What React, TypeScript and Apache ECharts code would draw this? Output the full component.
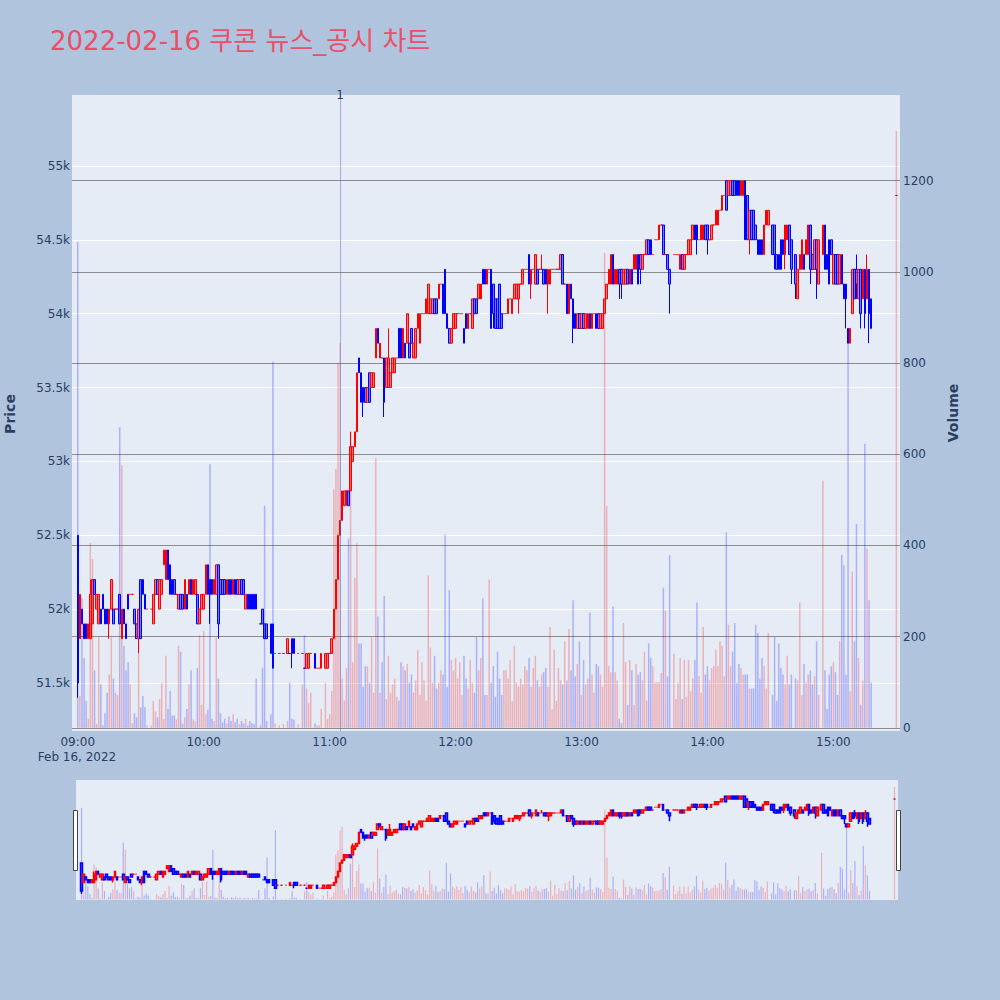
import React, { FC, useEffect, useRef } from "react";
import * as echarts from "echarts";

// [time, open, close, low, high, volume]
type Row = [string, number, number, number, number, number];

const rows09: Row[] = [
  ["09:00", 52500, 51500, 51400, 52500, 1065],
  ["09:01", 51800, 52100, 51800, 52100, 70],
  ["09:02", 52000, 51900, 51900, 52000, 284],
  ["09:03", 51900, 51800, 51800, 51900, 153],
  ["09:04", 51900, 51800, 51800, 51900, 59],
  ["09:05", 51800, 51900, 51800, 51900, 20],
  ["09:06", 51800, 52100, 51800, 52200, 406],
  ["09:07", 51900, 52200, 51900, 52200, 370],
  ["09:08", 52200, 52100, 52100, 52200, 126],
  ["09:09", 52000, 52100, 52000, 52100, 9],
  ["09:10", 51900, 52100, 51900, 52100, 199],
  ["09:11", 52000, 51900, 51900, 52000, 95],
  ["09:12", 52100, 52000, 52000, 52100, 5],
  ["09:13", 52000, 51900, 51900, 52000, 32],
  ["09:14", 52000, 51900, 51900, 52000, 77],
  ["09:15", 51900, 52000, 51800, 52000, 117],
  ["09:16", 52000, 52200, 52000, 52200, 199],
  ["09:17", 52000, 51900, 51900, 52000, 108],
  ["09:18", 52000, 52000, 52000, 52000, 77],
  ["09:19", 52000, 52000, 52000, 52000, 72],
  ["09:20", 52100, 51900, 51900, 52100, 659],
  ["09:21", 51800, 52000, 51800, 52000, 576],
  ["09:22", 52000, 51900, 51900, 52000, 180],
  ["09:23", 51900, 51800, 51800, 51900, 126],
  ["09:24", 52100, 52000, 52000, 52100, 144],
  ["09:25", 52100, 52100, 52100, 52100, 95],
  ["09:26", 52100, 52100, 52100, 52100, 10],
  ["09:27", 52000, 51900, 51900, 52000, 32],
  ["09:28", 51900, 51800, 51800, 51900, 23],
  ["09:29", 51800, 52000, 51700, 52000, 162],
  ["09:30", 52200, 51800, 51800, 52200, 45],
  ["09:31", 52200, 52100, 52100, 52200, 70],
  ["09:32", 52100, 52000, 52000, 52100, 45],
  ["09:33", 52000, 52000, 52000, 52000, 5],
  ["09:35", 52000, 52000, 52000, 52000, 5],
  ["09:36", 51900, 52100, 51900, 52100, 59],
  ["09:37", 52100, 52200, 52100, 52200, 36],
  ["09:38", 52200, 52100, 52100, 52200, 23],
  ["09:39", 52000, 52200, 52000, 52200, 63],
  ["09:40", 52100, 52200, 52100, 52200, 99],
  ["09:41", 52300, 52400, 52300, 52400, 20],
  ["09:42", 52200, 52400, 52200, 52400, 158],
  ["09:43", 52400, 52200, 52200, 52400, 41],
  ["09:44", 52300, 52100, 52100, 52300, 81],
  ["09:45", 52200, 52100, 52100, 52200, 27],
  ["09:46", 52200, 52100, 52100, 52200, 27],
  ["09:47", 52100, 52100, 52100, 52100, 18],
  ["09:48", 52000, 52100, 52000, 52100, 180],
  ["09:49", 52100, 52000, 52000, 52100, 167],
  ["09:50", 52100, 52000, 52000, 52100, 9],
  ["09:51", 52000, 52200, 52000, 52200, 23],
  ["09:52", 52100, 52000, 52000, 52100, 41],
  ["09:53", 52100, 52200, 52100, 52200, 95],
  ["09:54", 52200, 52100, 52100, 52200, 126],
  ["09:55", 52100, 52200, 52100, 52200, 18],
  ["09:56", 52100, 52200, 52100, 52200, 14],
  ["09:57", 52100, 51900, 51900, 52100, 131],
  ["09:58", 51900, 52000, 51900, 52000, 203],
  ["09:59", 52000, 52100, 52000, 52100, 50],
];

const rows10: Row[] = [
  ["10:00", 52000, 52100, 52000, 52100, 212],
  ["10:01", 52100, 52300, 52100, 52300, 30],
  ["10:02", 52300, 52100, 52100, 52300, 40],
  ["10:03", 52200, 52100, 51900, 52200, 578],
  ["10:04", 52200, 52100, 52100, 52200, 20],
  ["10:05", 52100, 52200, 52100, 52200, 15],
  ["10:06", 52100, 52300, 52100, 52300, 199],
  ["10:07", 52300, 51900, 51800, 52300, 108],
  ["10:08", 52200, 52100, 52100, 52200, 32],
  ["10:09", 52200, 52100, 52100, 52200, 12],
  ["10:10", 52200, 52100, 52100, 52200, 20],
  ["10:11", 52100, 52200, 52100, 52200, 10],
  ["10:12", 52200, 52100, 52100, 52200, 25],
  ["10:13", 52200, 52100, 52100, 52200, 15],
  ["10:14", 52100, 52200, 52100, 52200, 30],
  ["10:15", 52200, 52100, 52100, 52200, 12],
  ["10:16", 52200, 52100, 52100, 52200, 20],
  ["10:17", 52100, 52200, 52100, 52200, 8],
  ["10:18", 52200, 52100, 52100, 52200, 15],
  ["10:19", 52200, 52100, 52100, 52200, 10],
  ["10:20", 52000, 52100, 52000, 52100, 20],
  ["10:21", 52100, 52000, 52000, 52100, 5],
  ["10:22", 52100, 52000, 52000, 52100, 15],
  ["10:23", 52100, 52000, 52000, 52100, 10],
  ["10:24", 52100, 52000, 52000, 52100, 8],
  ["10:25", 52100, 52000, 52000, 52100, 108],
  ["10:27", 51900, 51900, 51900, 51900, 5],
  ["10:28", 52000, 51900, 51900, 52000, 131],
  ["10:29", 51900, 51800, 51800, 51900, 487],
  ["10:30", 51900, 51800, 51800, 51900, 15],
  ["10:32", 51900, 51700, 51700, 51900, 30],
  ["10:33", 51900, 51600, 51600, 51900, 803],
  ["10:34", 51700, 51700, 51700, 51700, 10],
  ["10:36", 51700, 51700, 51700, 51700, 5],
  ["10:38", 51700, 51700, 51700, 51700, 8],
  ["10:40", 51700, 51800, 51700, 51800, 15],
  ["10:41", 51700, 51700, 51700, 51700, 99],
  ["10:42", 51800, 51700, 51600, 51800, 20],
  ["10:43", 51800, 51700, 51700, 51800, 18],
  ["10:45", 51700, 51700, 51700, 51700, 8],
  ["10:47", 51700, 51700, 51700, 51700, 95],
  ["10:48", 51600, 51600, 51600, 51600, 203],
  ["10:49", 51600, 51700, 51600, 51700, 86],
  ["10:50", 51600, 51700, 51600, 51700, 54],
  ["10:51", 51700, 51700, 51700, 51700, 77],
  ["10:53", 51700, 51600, 51600, 51700, 10],
  ["10:54", 51600, 51600, 51600, 51600, 5],
  ["10:55", 51600, 51600, 51600, 51600, 5],
  ["10:56", 51600, 51700, 51600, 51700, 41],
  ["10:58", 51600, 51700, 51600, 51700, 99],
  ["10:59", 51600, 51700, 51600, 51700, 20],
];

const rows11: Row[] = [
  ["11:00", 51700, 51700, 51700, 51700, 30],
  ["11:01", 51700, 51800, 51700, 51800, 81],
  ["11:02", 51800, 52000, 51800, 52000, 523],
  ["11:03", 52000, 52200, 52000, 52200, 568],
  ["11:04", 52200, 52500, 52200, 52500, 799],
  ["11:05", 52500, 52600, 52500, 52600, 844],
  ["11:06", 52600, 52800, 52600, 52800, 108],
  ["11:07", 52700, 52800, 52700, 52800, 60],
  ["11:08", 52800, 52800, 52700, 52800, 131],
  ["11:09", 52800, 52700, 52700, 52800, 415],
  ["11:10", 52800, 53100, 52800, 53200, 650],
  ["11:11", 53000, 53100, 53000, 53100, 144],
  ["11:12", 53100, 53200, 53100, 53200, 329],
  ["11:13", 53200, 53600, 53200, 53600, 406],
  ["11:14", 53700, 53600, 53600, 53700, 185],
  ["11:15", 53600, 53400, 53400, 53600, 185],
  ["11:16", 53500, 53400, 53300, 53500, 90],
  ["11:17", 53500, 53400, 53400, 53500, 135],
  ["11:18", 53400, 53500, 53400, 53500, 135],
  ["11:19", 53600, 53400, 53400, 53600, 99],
  ["11:20", 53500, 53600, 53500, 53600, 199],
  ["11:21", 53500, 53600, 53500, 53600, 77],
  ["11:22", 53700, 53900, 53700, 53900, 591],
  ["11:23", 53900, 53800, 53800, 53900, 244],
  ["11:24", 53700, 53800, 53700, 53800, 77],
  ["11:25", 53700, 53700, 53700, 53700, 144],
  ["11:26", 53700, 53400, 53300, 53700, 289],
  ["11:27", 53500, 53700, 53500, 53700, 63],
  ["11:28", 53500, 53700, 53500, 53900, 158],
  ["11:29", 53500, 53600, 53500, 53600, 77],
  ["11:30", 53600, 53700, 53600, 53700, 95],
  ["11:31", 53600, 53700, 53600, 53700, 108],
  ["11:32", 53700, 53700, 53700, 53700, 68],
  ["11:33", 53900, 53700, 53700, 53900, 60],
  ["11:34", 53900, 53700, 53700, 53900, 144],
  ["11:35", 53700, 53900, 53700, 53900, 135],
  ["11:36", 53800, 53700, 53700, 53800, 126],
  ["11:37", 53800, 54000, 53800, 54000, 140],
  ["11:38", 53800, 53700, 53700, 53800, 99],
  ["11:39", 53900, 53800, 53800, 53900, 117],
  ["11:40", 53700, 53800, 53700, 53800, 77],
  ["11:41", 53700, 53900, 53700, 53900, 104],
  ["11:42", 53900, 54000, 53900, 54000, 171],
  ["11:43", 53800, 54000, 53800, 54000, 72],
  ["11:44", 54000, 54000, 54000, 54000, 144],
  ["11:45", 54000, 54000, 54000, 54000, 104],
  ["11:46", 54000, 54100, 54000, 54100, 60],
  ["11:47", 54000, 54200, 54000, 54200, 334],
  ["11:48", 54000, 54100, 54000, 54100, 176],
  ["11:49", 54000, 54100, 54000, 54100, 99],
  ["11:50", 54100, 54000, 54000, 54100, 158],
  ["11:51", 54100, 54000, 54000, 54100, 86],
  ["11:52", 54100, 54200, 54100, 54200, 99],
  ["11:53", 54200, 54200, 54200, 54200, 126],
  ["11:54", 54200, 54000, 54000, 54200, 117],
  ["11:55", 54300, 54000, 54000, 54300, 424],
  ["11:56", 54000, 53900, 53900, 54000, 90],
  ["11:57", 53900, 53800, 53800, 53900, 302],
  ["11:58", 53800, 53900, 53800, 53900, 149],
  ["11:59", 53900, 54000, 53900, 54000, 126],
];

const rows12: Row[] = [
  ["12:00", 53900, 54000, 53900, 54000, 153],
  ["12:01", 54000, 54000, 54000, 54000, 108],
  ["12:02", 54000, 54000, 54000, 54000, 144],
  ["12:03", 54000, 54000, 54000, 54000, 72],
  ["12:04", 53900, 53800, 53800, 53900, 158],
  ["12:05", 54000, 53900, 53900, 54000, 108],
  ["12:06", 53900, 54000, 53900, 54000, 86],
  ["12:07", 54000, 54000, 54000, 54000, 149],
  ["12:08", 53900, 54100, 53900, 54100, 99],
  ["12:09", 54100, 54000, 54000, 54100, 77],
  ["12:10", 54100, 54000, 54000, 54100, 199],
  ["12:11", 54100, 54200, 54100, 54200, 126],
  ["12:12", 54100, 54200, 54100, 54200, 153],
  ["12:13", 54300, 54200, 54200, 54300, 284],
  ["12:14", 54300, 54200, 54200, 54300, 72],
  ["12:15", 54200, 54300, 54200, 54300, 72],
  ["12:16", 54300, 54300, 54300, 54300, 325],
  ["12:17", 54300, 53900, 53900, 54300, 99],
  ["12:18", 54200, 54000, 53900, 54200, 135],
  ["12:19", 54100, 53900, 53900, 54100, 68],
  ["12:20", 54100, 53900, 53900, 54100, 167],
  ["12:21", 54200, 53900, 53900, 54200, 108],
  ["12:22", 54000, 53900, 53900, 54000, 72],
  ["12:23", 54000, 54000, 54000, 54000, 126],
  ["12:24", 54000, 54000, 54000, 54000, 126],
  ["12:25", 54000, 54100, 54000, 54100, 108],
  ["12:26", 54100, 54100, 54100, 54100, 149],
  ["12:27", 54000, 54100, 54000, 54100, 59],
  ["12:28", 54100, 54200, 54100, 54200, 180],
  ["12:29", 54100, 54200, 54100, 54200, 99],
  ["12:30", 54100, 54200, 54000, 54200, 90],
  ["12:31", 54200, 54200, 54200, 54200, 108],
  ["12:32", 54200, 54300, 54200, 54300, 95],
  ["12:33", 54300, 54300, 54300, 54300, 135],
  ["12:34", 54300, 54300, 54300, 54300, 126],
  ["12:35", 54400, 54200, 54200, 54400, 153],
  ["12:36", 54200, 54300, 54100, 54300, 90],
  ["12:37", 54300, 54300, 54300, 54300, 131],
  ["12:38", 54200, 54400, 54200, 54400, 158],
  ["12:39", 54300, 54200, 54200, 54300, 104],
  ["12:40", 54300, 54300, 54300, 54300, 90],
  ["12:41", 54300, 54300, 54300, 54400, 117],
  ["12:42", 54300, 54200, 54200, 54300, 122],
  ["12:43", 54300, 54200, 54200, 54300, 131],
  ["12:44", 54200, 54300, 54000, 54300, 90],
  ["12:45", 54200, 54300, 54200, 54300, 221],
  ["12:46", 54300, 54300, 54300, 54300, 41],
  ["12:47", 54300, 54300, 54300, 54300, 171],
  ["12:48", 54300, 54300, 54300, 54300, 59],
  ["12:49", 54300, 54300, 54300, 54300, 131],
  ["12:50", 54300, 54400, 54300, 54400, 104],
  ["12:51", 54400, 54200, 54200, 54400, 95],
  ["12:52", 54200, 54200, 54200, 54200, 190],
  ["12:53", 54200, 54000, 54000, 54200, 104],
  ["12:54", 54000, 54200, 54000, 54200, 217],
  ["12:55", 54200, 54100, 54100, 54200, 126],
  ["12:56", 54100, 53900, 53800, 54100, 280],
  ["12:57", 54000, 53900, 53900, 54000, 113],
  ["12:58", 53900, 54000, 53900, 54000, 140],
  ["12:59", 54000, 53900, 53900, 54000, 190],
];

const rows13: Row[] = [
  ["13:00", 53900, 54000, 53900, 54000, 72],
  ["13:01", 54000, 53900, 53900, 54000, 149],
  ["13:02", 53900, 54000, 53900, 54000, 95],
  ["13:03", 53900, 54000, 53900, 54000, 108],
  ["13:04", 54000, 53900, 53900, 54000, 253],
  ["13:05", 53900, 54000, 53900, 54000, 117],
  ["13:06", 54000, 54000, 54000, 54000, 77],
  ["13:07", 54000, 53900, 53900, 54000, 140],
  ["13:08", 54000, 53900, 53900, 54000, 135],
  ["13:09", 53900, 54000, 53900, 54000, 117],
  ["13:10", 53900, 54000, 53900, 54000, 90],
  ["13:11", 54000, 54100, 54000, 54100, 1042],
  ["13:12", 54100, 54200, 54100, 54200, 487],
  ["13:13", 54200, 54300, 54200, 54300, 135],
  ["13:14", 54200, 54400, 54200, 54400, 122],
  ["13:15", 54400, 54200, 54200, 54400, 266],
  ["13:16", 54200, 54300, 54200, 54300, 122],
  ["13:17", 54200, 54300, 54200, 54300, 104],
  ["13:18", 54300, 54200, 54100, 54300, 20],
  ["13:19", 54300, 54200, 54100, 54300, 10],
  ["13:20", 54200, 54300, 54200, 54300, 230],
  ["13:21", 54200, 54300, 54200, 54300, 144],
  ["13:22", 54300, 54200, 54200, 54300, 50],
  ["13:23", 54200, 54300, 54200, 54300, 149],
  ["13:24", 54300, 54200, 54200, 54300, 126],
  ["13:25", 54300, 54400, 54300, 54400, 50],
  ["13:26", 54300, 54400, 54300, 54400, 140],
  ["13:27", 54400, 54200, 54200, 54400, 117],
  ["13:28", 54400, 54300, 54200, 54400, 122],
  ["13:29", 54300, 54400, 54300, 54400, 104],
  ["13:30", 54400, 54400, 54400, 54400, 167],
  ["13:31", 54400, 54500, 54400, 54500, 59],
  ["13:32", 54500, 54400, 54400, 54500, 185],
  ["13:33", 54500, 54400, 54400, 54500, 153],
  ["13:34", 54400, 54400, 54400, 54400, 135],
  ["13:35", 54500, 54500, 54500, 54500, 99],
  ["13:36", 54500, 54500, 54500, 54500, 100],
  ["13:37", 54500, 54600, 54500, 54600, 100],
  ["13:38", 54600, 54600, 54600, 54600, 120],
  ["13:39", 54600, 54400, 54400, 54600, 307],
  ["13:40", 54400, 54400, 54400, 54400, 257],
  ["13:41", 54400, 54300, 54300, 54400, 113],
  ["13:42", 54300, 54200, 54000, 54300, 379],
  ["13:44", 54400, 54400, 54400, 54400, 162],
  ["13:45", 54400, 54400, 54400, 54400, 63],
  ["13:46", 54400, 54400, 54400, 54400, 99],
  ["13:47", 54300, 54400, 54300, 54400, 153],
  ["13:48", 54400, 54300, 54300, 54400, 63],
  ["13:49", 54300, 54400, 54300, 54400, 149],
  ["13:50", 54400, 54400, 54400, 54400, 68],
  ["13:51", 54400, 54500, 54400, 54500, 149],
  ["13:52", 54400, 54500, 54400, 54500, 81],
  ["13:53", 54500, 54600, 54500, 54600, 108],
  ["13:54", 54600, 54500, 54500, 54600, 149],
  ["13:55", 54600, 54500, 54400, 54600, 275],
  ["13:56", 54500, 54500, 54500, 54500, 113],
  ["13:57", 54500, 54600, 54500, 54600, 77],
  ["13:58", 54500, 54600, 54500, 54600, 221],
  ["13:59", 54600, 54500, 54500, 54600, 117],
];

const rows14: Row[] = [
  ["14:00", 54600, 54500, 54400, 54600, 135],
  ["14:01", 54500, 54500, 54500, 54500, 104],
  ["14:02", 54500, 54600, 54500, 54600, 131],
  ["14:03", 54600, 54600, 54600, 54600, 135],
  ["14:04", 54600, 54700, 54600, 54700, 171],
  ["14:05", 54600, 54700, 54600, 54700, 135],
  ["14:06", 54700, 54700, 54700, 54700, 190],
  ["14:07", 54700, 54800, 54700, 54800, 180],
  ["14:08", 54800, 54800, 54800, 54800, 113],
  ["14:09", 54900, 54700, 54700, 54900, 429],
  ["14:10", 54800, 54900, 54800, 54900, 226],
  ["14:11", 54800, 54900, 54800, 54900, 135],
  ["14:12", 54900, 54800, 54800, 54900, 167],
  ["14:13", 54900, 54800, 54800, 54900, 230],
  ["14:14", 54900, 54800, 54800, 54900, 99],
  ["14:15", 54900, 54800, 54800, 54900, 140],
  ["14:16", 54800, 54900, 54800, 54900, 131],
  ["14:17", 54800, 54900, 54800, 54900, 117],
  ["14:18", 54900, 54500, 54500, 54900, 117],
  ["14:19", 54800, 54500, 54500, 54800, 117],
  ["14:20", 54500, 54700, 54400, 54700, 86],
  ["14:21", 54700, 54500, 54500, 54700, 86],
  ["14:22", 54700, 54500, 54500, 54700, 86],
  ["14:23", 54600, 54500, 54500, 54600, 226],
  ["14:24", 54500, 54400, 54400, 54500, 208],
  ["14:25", 54500, 54400, 54400, 54500, 108],
  ["14:26", 54500, 54400, 54400, 54500, 153],
  ["14:27", 54400, 54600, 54400, 54600, 135],
  ["14:28", 54600, 54700, 54600, 54700, 86],
  ["14:29", 54600, 54700, 54600, 54700, 208],
  ["14:31", 54600, 54400, 54400, 54600, 72],
  ["14:32", 54600, 54400, 54300, 54600, 199],
  ["14:33", 54400, 54300, 54300, 54400, 59],
  ["14:34", 54400, 54300, 54300, 54400, 185],
  ["14:35", 54500, 54300, 54300, 54500, 131],
  ["14:36", 54500, 54400, 54400, 54500, 117],
  ["14:37", 54400, 54600, 54300, 54600, 95],
  ["14:38", 54500, 54600, 54500, 54600, 158],
  ["14:39", 54600, 54400, 54400, 54600, 95],
  ["14:40", 54500, 54300, 54200, 54500, 117],
  ["14:42", 54400, 54200, 54100, 54400, 108],
  ["14:43", 54100, 54300, 54100, 54300, 104],
  ["14:44", 54300, 54400, 54300, 54400, 275],
  ["14:45", 54300, 54500, 54300, 54500, 72],
  ["14:46", 54400, 54300, 54300, 54400, 140],
  ["14:47", 54400, 54500, 54400, 54500, 99],
  ["14:48", 54400, 54600, 54400, 54600, 117],
  ["14:49", 54600, 54300, 54200, 54600, 126],
  ["14:50", 54400, 54300, 54300, 54400, 95],
  ["14:51", 54300, 54500, 54300, 54500, 113],
  ["14:52", 54500, 54300, 54100, 54500, 190],
  ["14:53", 54200, 54500, 54200, 54500, 72],
  ["14:55", 54400, 54600, 54400, 54600, 542],
  ["14:56", 54600, 54300, 54300, 54600, 126],
  ["14:57", 54400, 54300, 54300, 54400, 41],
  ["14:58", 54500, 54200, 54200, 54500, 117],
  ["14:59", 54500, 54400, 54400, 54500, 135],
];

const rows15: Row[] = [
  ["15:00", 54200, 54400, 54200, 54400, 144],
  ["15:01", 54400, 54200, 54200, 54400, 122],
  ["15:02", 54400, 54200, 54200, 54400, 72],
  ["15:03", 54200, 54400, 54200, 54400, 190],
  ["15:04", 54400, 54200, 54200, 54400, 379],
  ["15:05", 54200, 54100, 54100, 54200, 356],
  ["15:06", 54200, 54100, 53900, 54200, 117],
  ["15:07", 53900, 53800, 53800, 53900, 873],
  ["15:08", 53800, 53900, 53800, 53900, 81],
  ["15:09", 54000, 54300, 54000, 54300, 343],
  ["15:10", 54300, 54100, 54100, 54300, 190],
  ["15:11", 54300, 54200, 54100, 54400, 447],
  ["15:12", 54100, 54300, 54100, 54300, 153],
  ["15:13", 54300, 54000, 53900, 54300, 50],
  ["15:14", 54100, 54300, 54100, 54300, 104],
  ["15:15", 54300, 54000, 53900, 54300, 623],
  ["15:16", 54100, 54300, 54100, 54400, 393],
  ["15:17", 54300, 54000, 53800, 54300, 280],
  ["15:18", 54100, 53900, 53900, 54100, 99],
  ["15:30", 54800, 54800, 54800, 54800, 1309],
];

const newsTimes = ["11:05"];
const newsLabels = ["1"];

const TITLE = "2022-02-16 쿠콘 뉴스_공시 차트";
const DATE_LABEL = "Feb 16, 2022";

const ts = (hm: string, sec = 0) =>
  new Date(2022, 1, 16, +hm.slice(0, 2), +hm.slice(3, 5), sec).getTime();

const rows = [...rows09, ...rows10, ...rows11, ...rows12, ...rows13, ...rows14, ...rows15];

const RED = "#ff0000";
const BLUE = "#0000ff";
const FONT = '"DejaVu Sans", "Noto Sans CJK KR", sans-serif';
const TICK = "#2a3f5f";

const App: FC = () => {
  const ref = useRef<HTMLDivElement>(null);
  useEffect(() => {
    const chart = echarts.init(ref.current, undefined, { renderer: "svg" });

    const candles = rows.map((r) => [ts(r[0]), r[1], r[2], r[3], r[4]]);
    const volumes = rows.map((r, i) => {
      const up = r[2] > r[1] || (r[2] === r[1] && (i === 0 || rows[i - 1][2] <= r[2]));
      return {
        value: [ts(r[0]), r[5]],
        itemStyle: { color: up ? "rgba(255,0,0,0.25)" : "rgba(0,0,255,0.25)" },
      };
    });

    const xMin = ts("08:57", 37);
    const xMax = ts("15:31", 23);
    const pMin = 51175;
    const pMax = 55480;
    const vMin = -7;
    const vMax = 1388;

    const candleStyle = {
      color: "rgba(255,0,0,0.5)",
      color0: "rgba(0,0,255,0.5)",
      borderColor: RED,
      borderColor0: BLUE,
      borderWidth: 1,
    };

    chart.setOption({
      animation: false,
      backgroundColor: "#b0c4de",
      textStyle: { fontFamily: FONT },
      grid: [
        { left: 72, top: 95, width: 828, height: 636, show: true, backgroundColor: "#e5ecf6", borderWidth: 0 },
        { left: 76, top: 780, width: 822, height: 120, show: true, backgroundColor: "#e5ecf6", borderWidth: 0 },
      ],
      xAxis: [
        {
          type: "time",
          gridIndex: 0,
          min: xMin,
          max: xMax,
          minInterval: 3600 * 1000,
          maxInterval: 3600 * 1000,
          axisLine: { show: false },
          axisTick: { show: false },
          splitLine: { show: false },
          axisLabel: {
            color: TICK,
            fontSize: 12,
            fontFamily: FONT,
            margin: 5,
            formatter: (v: number) => {
              const d = new Date(v);
              if (d.getMinutes() !== 0 || d.getSeconds() !== 0) return "";
              return String(d.getHours()).padStart(2, "0") + ":00";
            },
          },
        },
        { type: "time", gridIndex: 1, min: xMin, max: xMax, show: false },
      ],
      yAxis: [
        {
          type: "value",
          gridIndex: 0,
          position: "left",
          min: pMin,
          max: pMax,
          splitNumber: 8,
          axisLine: { show: false },
          axisTick: { show: false },
          splitLine: { show: true, showMinLine: false, showMaxLine: false, lineStyle: { color: "#ffffff", width: 1 } },
          axisLabel: {
            color: TICK,
            fontSize: 12,
            fontFamily: FONT,
            margin: 2,
            formatter: (v: number) => (v % 500 === 0 ? v / 1000 + "k" : ""),
          },
        },
        {
          type: "value",
          gridIndex: 0,
          position: "right",
          min: vMin,
          max: vMax,
          splitNumber: 7,
          axisLine: { show: false },
          axisTick: { show: false },
          splitLine: { show: true, showMinLine: false, showMaxLine: false, lineStyle: { color: "#8c8c8c", width: 1 } },
          axisLabel: {
            color: TICK,
            fontSize: 12,
            fontFamily: FONT,
            margin: 3,
            formatter: (v: number) => (v >= 0 && v % 200 === 0 ? String(v) : ""),
          },
        },
        { type: "value", gridIndex: 1, min: pMin, max: pMax, show: false },
        { type: "value", gridIndex: 1, min: vMin, max: vMax, show: false },
      ],
      series: [
        {
          name: "Price",
          type: "candlestick",
          xAxisIndex: 0,
          yAxisIndex: 0,
          data: candles,
          barWidth: 2,
          itemStyle: candleStyle,
          markLine: {
            silent: true,
            symbol: "none",
            lineStyle: { color: "rgba(80,100,240,0.45)", width: 1, type: "solid" },
            label: {
              show: true,
              position: "end",
              distance: -6,
              color: TICK,
              fontSize: 12,
              fontFamily: FONT,
            },
            data: newsTimes.map((t, i) => ({ xAxis: ts(t), label: { formatter: newsLabels[i] } })),
          },
        },
        {
          name: "Volume",
          type: "bar",
          xAxisIndex: 0,
          yAxisIndex: 1,
          barWidth: 1.5,
          z: 3,
          data: volumes,
        },
        {
          type: "candlestick",
          xAxisIndex: 1,
          yAxisIndex: 2,
          data: candles,
          barWidth: 2,
          silent: true,
          itemStyle: { ...candleStyle, borderWidth: 1.5 },
        },
        {
          type: "bar",
          xAxisIndex: 1,
          yAxisIndex: 3,
          barWidth: 1.2,
          silent: true,
          z: 3,
          data: volumes,
        },
      ],
      graphic: [
        {
          type: "text",
          x: 50,
          y: 41,
          style: { text: TITLE, fill: "#e8506a", fontSize: 26, fontFamily: FONT, textAlign: "left", textVerticalAlign: "middle" },
        },
        {
          type: "text",
          x: 9.5,
          y: 414,
          rotation: Math.PI / 2,
          style: { text: "Price", fill: TICK, fontSize: 14, fontWeight: "bold", fontFamily: FONT, textAlign: "center", textVerticalAlign: "middle" },
        },
        {
          type: "text",
          x: 953,
          y: 413,
          rotation: Math.PI / 2,
          style: { text: "Volume", fill: TICK, fontSize: 14, fontWeight: "bold", fontFamily: FONT, textAlign: "center", textVerticalAlign: "middle" },
        },
        {
          type: "text",
          x: 77,
          y: 757,
          style: { text: DATE_LABEL, fill: TICK, fontSize: 12, fontFamily: FONT, textAlign: "center", textVerticalAlign: "middle" },
        },
        {
          type: "rect",
          shape: { x: 73.5, y: 810.5, width: 4, height: 60 },
          style: { fill: "#ffffff", stroke: "#444444", lineWidth: 1 },
          z: 10,
        },
        {
          type: "rect",
          shape: { x: 896.5, y: 810.5, width: 4, height: 60 },
          style: { fill: "#ffffff", stroke: "#444444", lineWidth: 1 },
          z: 10,
        },
      ],
    });

    const onResize = () => chart.resize();
    window.addEventListener("resize", onResize);
    return () => {
      window.removeEventListener("resize", onResize);
      chart.dispose();
    };
  }, []);

  return <div ref={ref} style={{ position: "absolute", left: 0, top: 0, width: 1000, height: 1000 }}></div>;
};

export default App;
